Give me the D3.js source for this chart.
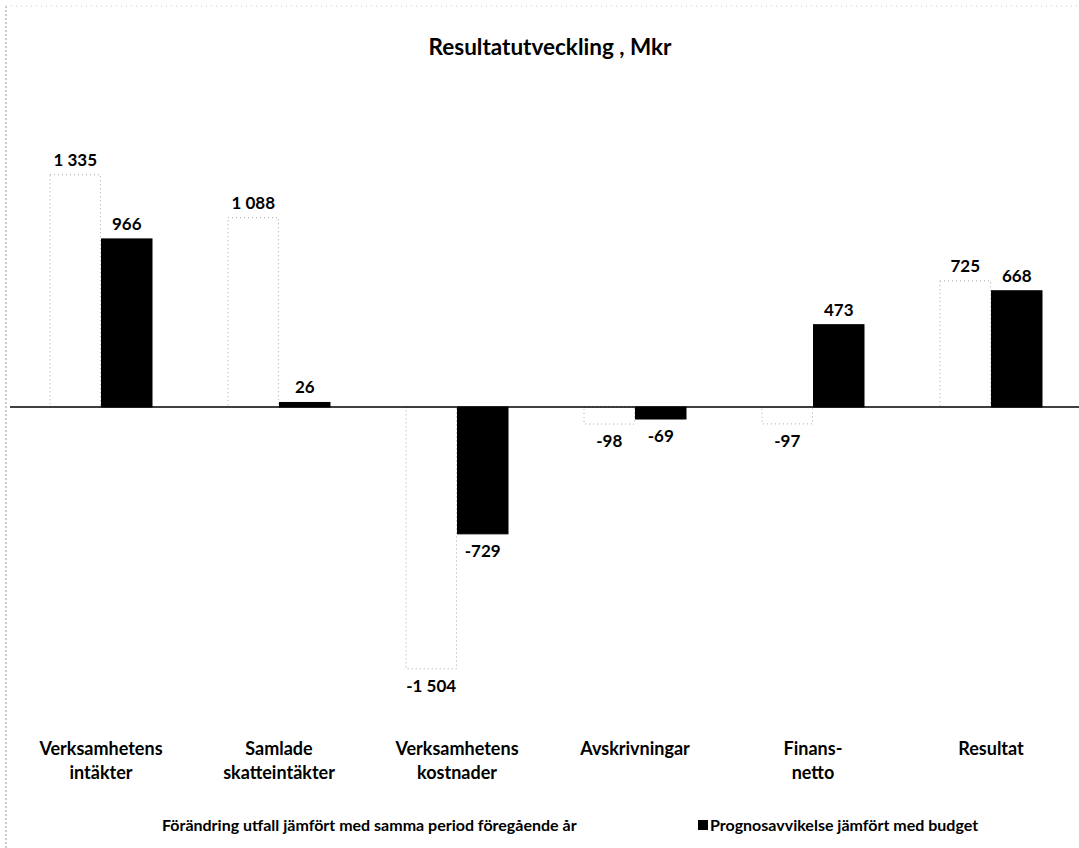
<!DOCTYPE html>
<html>
<head>
<meta charset="utf-8">
<script src="https://d3js.org/d3.v7.min.js"></script>
<style>
  body { margin: 0; background: #fff; }
  text { font-family: Lato, "Open Sans", sans-serif; font-weight: bold; fill: #000; }
</style>
</head>
<body>
<div id="chart-container"></div>
<script>
const categories = [
  ["Verksamhetens", "intäkter"],
  ["Samlade", "skatteintäkter"],
  ["Verksamhetens", "kostnader"],
  ["Avskrivningar"],
  ["Finans-", "netto"],
  ["Resultat"]
];
const utfall = [1335, 1088, -1504, -98, -97, 725];
const prognos = [966, 26, -729, -69, 473, 668];
const labelsUtfall = ["1 335", "1 088", "-1 504", "-98", "-97", "725"];
const labelsPrognos = ["966", "26", "-729", "-69", "473", "668"];
const seriesNames = [
  "Förändring utfall jämfört med samma period föregående år",
  "Prognosavvikelse jämfört med budget"
];

chart = {
  "width": 1079,
  "height": 848,
  "scale": {
    "x": d3.scaleBand(),
    "series": d3.scaleBand(),
    "y": d3.scaleLinear()
  }
}

function drawChart(){
  let svg = d3.select("#chart-container").append("svg")
    .attr("width", chart.width).attr("height", chart.height);

  // faint scanned frame
  svg.append("line").attr("x1", 6).attr("x2", 6).attr("y1", 6).attr("y2", 848)
    .attr("stroke", "#999").attr("stroke-dasharray", "2,2");
  svg.append("line").attr("x1", 6).attr("x2", 1079).attr("y1", 6).attr("y2", 6)
    .attr("stroke", "#ccc").attr("stroke-dasharray", "1,4");

  chart.scale.x.domain(d3.range(categories.length)).range([12, 1080]);
  chart.scale.series.domain([0, 1]).range([38, 140]).paddingInner(0.02);
  let k = 0.174, zero = 407;
  chart.scale.y.domain([-1504, 1335]).range([zero + 1504 * k, zero - 1335 * k]);

  svg.append("text")
    .attr("x", 550).attr("y", 55)
    .attr("text-anchor", "middle")
    .style("font-size", "22.5px")
    .text("Resultatutveckling , Mkr");

  let series = [
    {values: utfall, labels: labelsUtfall, fill: "#fff", stroke: "#aaa", dash: "1,3"},
    {values: prognos, labels: labelsPrognos, fill: "#000", stroke: "#000", dash: null}
  ];

  series.forEach(function(s, si){
    let g = svg.append("g").attr("class", "series-" + si);
    g.selectAll("rect")
      .data(s.values)
      .enter()
      .append("rect")
      .attr("x", (d, i) => chart.scale.x(i) + chart.scale.series(si))
      .attr("width", chart.scale.series.bandwidth())
      .attr("y", d => chart.scale.y(Math.max(0, d)))
      .attr("height", d => Math.abs(chart.scale.y(d) - chart.scale.y(0)))
      .attr("fill", s.fill)
      .attr("stroke", s.stroke)
      .attr("stroke-width", 1)
      .attr("stroke-dasharray", s.dash);

    g.selectAll(".value-label")
      .data(s.values)
      .enter()
      .append("text")
      .attr("class", "value-label")
      .attr("x", (d, i) => chart.scale.x(i) + chart.scale.series(si) + chart.scale.series.bandwidth() / 2)
      .attr("y", d => d >= 0 ? chart.scale.y(d) - 9 : chart.scale.y(d) + 23)
      .attr("text-anchor", "middle")
      .style("font-size", "17px")
      .text((d, i) => s.labels[i]);
  });

  svg.append("line")
    .attr("x1", 10).attr("x2", 1079)
    .attr("y1", chart.scale.y(0)).attr("y2", chart.scale.y(0))
    .attr("stroke", "#000").attr("stroke-width", 1.5);

  let cats = svg.append("g").attr("id", "category-labels");
  cats.selectAll("text")
    .data(categories)
    .enter()
    .append("text")
    .attr("x", (d, i) => chart.scale.x(i) + chart.scale.x.bandwidth() / 2)
    .attr("y", 755)
    .attr("text-anchor", "middle")
    .style("font-size", "18px")
    .each(function(lines){
      d3.select(this).selectAll("tspan")
        .data(lines)
        .enter()
        .append("tspan")
        .attr("x", d3.select(this).attr("x"))
        .attr("dy", (l, j) => j == 0 ? 0 : 24)
        .text(l => l);
    });

  let legend = svg.append("g").attr("id", "legend");
  let legendX = [150, 698];
  series.forEach(function(s, si){
    legend.append("rect")
      .attr("x", legendX[si]).attr("y", 820)
      .attr("width", 10).attr("height", 10)
      .attr("fill", s.fill);
    legend.append("text")
      .attr("x", legendX[si] + 12).attr("y", 831)
      .style("font-size", "16px")
      .text(seriesNames[si]);
  });
}

drawChart();
</script>
</body>
</html>
